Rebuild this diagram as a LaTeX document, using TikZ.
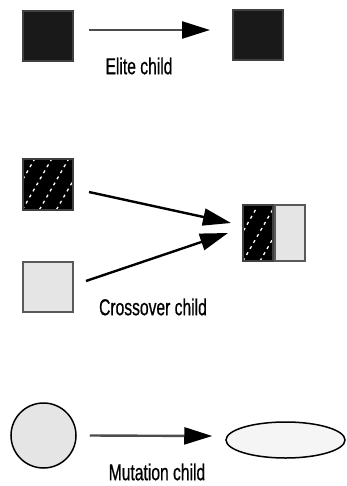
\documentclass[tikz,border=0pt]{standalone}
\usepackage{fontspec}
\setsansfont[FakeStretch=0.68,FakeBold=0.6]{Liberation Sans}
\usetikzlibrary{arrows.meta}
\usetikzlibrary{positioning}
\usetikzlibrary{shapes.geometric}

\tikzset{
  parent/.style={draw=black!75, line width=2pt, inner sep=0pt, minimum size=50pt},
  elitebox/.style={parent, fill=black!90},
  grainy/.style={parent, fill=black,
    path picture={\foreach \k in {-3,...,3}
      \draw[white, line width=1.3pt, dash pattern=on 3pt off 4pt]
        ([xshift=\k*17pt]path picture bounding box.south west) -- ++(30pt,52pt);}},
  plainbox/.style={parent, draw=black!65, fill=black!10},
  halfbox/.style={minimum width=30pt, minimum height=56pt},
  link/.style={line width=2.4pt, -{Triangle[length=28pt,width=17pt,color=black]}},
  caption/.style={font=\sffamily\fontsize{23}{23}\selectfont, inner sep=0pt}
}

\begin{document}
\begin{tikzpicture}[x=1pt, y=-1pt]
\useasboundingbox (0,0) rectangle (347,486);
% elite
\node[elitebox] (e1) at (47.5,36) {};
\node[elitebox] (e2) at (257.5,35) {};
\coordinate (etip) at ([shift={(-21.5,-5)}]e2.west);
\draw[link, draw=black!70] ([shift={(15.5,-6)}]e1.east) -- (etip);
\node[caption] (elab) at (139,66) {Elite child};
% crossover
\node[grainy] (c1) at (47.5,184.5) {};
\node[plainbox] (c2) at (47.5,287) {};
\node[grainy, halfbox] (cl) at (258,233) {};
\node[plainbox, halfbox, right=0pt of cl] (cr) {};
\coordinate (ctip1) at ([shift={(-11,-10)}]cl.west);
\coordinate (ctip2) at ([shift={(-14,0)}]cl.west);
\draw[link, black] ([shift={(15.5,7.5)}]c1.east) -- (ctip1);
\draw[link, black] ([shift={(12.5,-6)}]c2.east) -- (ctip2);
\node[caption] (clab) at (153,307) {Crossover child};
% mutation
\node[circle, draw=black, line width=1.5pt, fill=black!10, minimum size=65pt,
  inner sep=0pt] (m1) at (43.5,435.5) {};
\node[ellipse, draw=black, line width=1.5pt, fill=black!4, minimum width=119pt,
  minimum height=36pt, inner sep=0pt] (m2) at (285.5,440) {};
\coordinate (mtip) at ([shift={(-13,-4)}]m2.west);
\draw[link, draw=black!70] ([shift={(13,0)}]m1.east) -- (mtip);
\node[caption] (mlab) at (157,472) {Mutation child};
\end{tikzpicture}
\end{document}
